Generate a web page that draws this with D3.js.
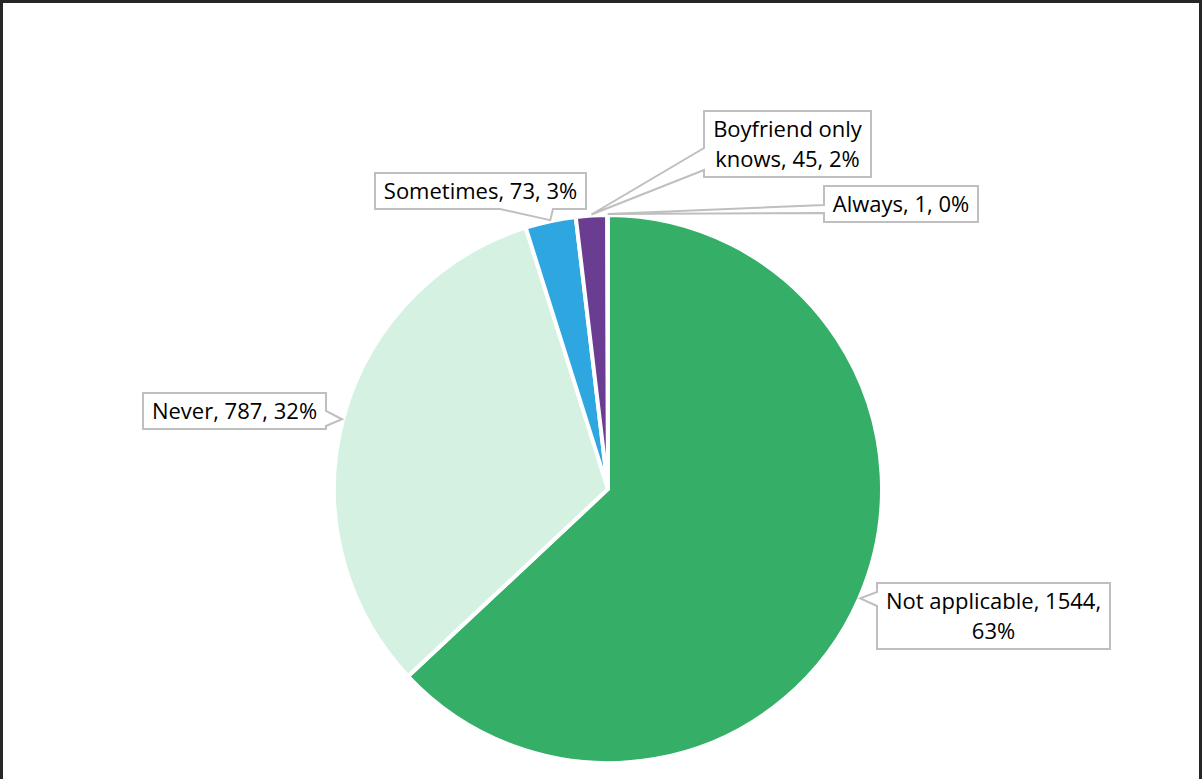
<!DOCTYPE html>
<html>
<head>
<meta charset="utf-8">
<script src="https://cdn.jsdelivr.net/npm/d3@7"></script>
<style>
  html, body { margin: 0; padding: 0; background: #fff; }
  svg { display: block; }
  text { font-family: "Open Sans", "Noto Sans", sans-serif; }
</style>
</head>
<body>
<svg id="chart" width="1204" height="779"></svg>
<script>
// Responses, in drawing order (clockwise from 12 o'clock)
const categories = ["Not applicable", "Never", "Sometimes", "Boyfriend only knows", "Always"];
const counts = [1544, 787, 73, 45, 1];
const percentLabels = ["63%", "32%", "3%", "2%", "0%"];
const colors = ["#35ae67", "#d5f1e2", "#2ea6e0", "#6b3d92", "#a5a5a5"];

// Label text lines per slice
const labelLines = [
  ["Not applicable, 1544,", "63%"],
  ["Never, 787, 32%"],
  ["Sometimes, 73, 3%"],
  ["Boyfriend only", "knows, 45, 2%"],
  ["Always, 1, 0%"]
];

// Callout layout: box anchor, side the pointer leaves from, pointer base span
const calloutLayout = [
  { x: 877, y: 583, side: "left",   b1: 592, b2: 606 },
  { right: 326, y: 393, side: "right", b1: 411, b2: 426 },
  { right: 586, y: 173, side: "bottom", b1: 500, b2: 553 },
  { x: 704, y: 111, side: "left",   b1: 148, b2: 170 },
  { x: 824, y: 186, side: "left",   b1: 205, b2: 213 }
];

const svg = d3.select("#chart");
const cx = 608, cy = 489, radius = 274;
const fontSize = 22, lineH = 30, padX = 9, padY = 3;

// Frame
svg.append("rect")
  .attr("x", 1.5).attr("y", 1.5)
  .attr("width", 1199).attr("height", 800)
  .attr("fill", "none").attr("stroke", "#262626").attr("stroke-width", 3);

const data = categories.map((c, i) => ({ name: c, value: counts[i], color: colors[i], i }));

const pie = d3.pie().value(d => d.value).sort(null);
const arcs = pie(data);
const arc = d3.arc().innerRadius(0).outerRadius(radius);

const g = svg.append("g").attr("transform", `translate(${cx},${cy})`);
g.selectAll("path.slice")
  .data(arcs)
  .join("path")
  .attr("class", "slice")
  .attr("d", arc)
  .attr("fill", d => d.data.color)
  .attr("stroke", "#fff")
  .attr("stroke-width", 4)
  .attr("stroke-linejoin", "miter");

// Callouts
const tipArc = d3.arc().innerRadius(radius + 1).outerRadius(radius + 1);
const labels = svg.append("g");

arcs.forEach((a, i) => {
  const lay = calloutLayout[i];
  const lines = labelLines[i];
  const [tx0, ty0] = tipArc.centroid(a);
  const tip = [cx + tx0, cy + ty0];

  const grp = labels.append("g");
  const path = grp.append("path");
  const txt = grp.append("text")
    .attr("font-size", fontSize)
    .attr("fill", "#000")
    .attr("text-anchor", "middle");
  lines.forEach((l, k) => txt.append("tspan").text(l));

  let maxW = 0;
  txt.selectAll("tspan").each(function () { maxW = Math.max(maxW, this.getComputedTextLength()); });
  const w = Math.round(maxW + 2 * padX);
  const h = lines.length * lineH + 2 * padY;
  const x = lay.x !== undefined ? lay.x : lay.right - w;
  const y = lay.y;

  txt.selectAll("tspan")
    .attr("x", x + w / 2)
    .attr("y", (d, k) => y + padY + lineH * k + lineH / 2)
    .attr("dy", "0.36em");

  let p;
  if (lay.side === "left") {
    p = `M${x},${y}H${x + w}V${y + h}H${x}V${lay.b2}L${tip[0]},${tip[1]}L${x},${lay.b1}Z`;
  } else if (lay.side === "right") {
    p = `M${x},${y}H${x + w}V${lay.b1}L${tip[0]},${tip[1]}L${x + w},${lay.b2}V${y + h}H${x}Z`;
  } else {
    p = `M${x},${y}H${x + w}V${y + h}H${lay.b2}L${tip[0]},${tip[1]}L${lay.b1},${y + h}H${x}Z`;
  }
  path.attr("d", p)
    .attr("fill", "#fff")
    .attr("stroke", "#bfbfbf")
    .attr("stroke-width", 2)
    .attr("stroke-linejoin", "miter");
});
</script>
</body>
</html>
